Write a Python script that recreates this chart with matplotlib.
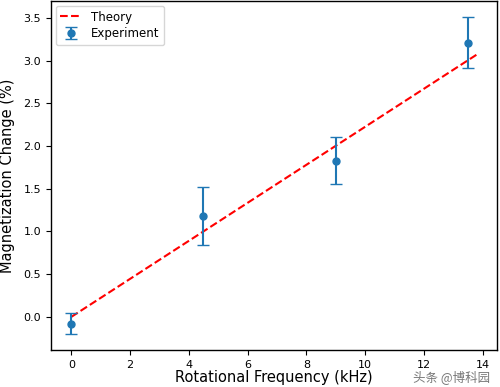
import matplotlib.pyplot as plt

freq = [0, 4.5, 9, 13.5]
change = [-0.08, 1.18, 1.83, 3.21]
err = [0.12, 0.34, 0.28, 0.30]

theory_x = [0, 13.8]
theory_y = [0.0, 3.07]

fig = plt.figure(figsize=(5, 3.87), dpi=100)
ax = fig.add_axes([0.102, 0.096, 0.892, 0.901])

ax.plot(theory_x, theory_y, 'r--', label='Theory')
ax.errorbar(freq, change, yerr=err, fmt='o', markersize=5, capsize=4, label='Experiment')

ax.set_xlabel('Rotational Frequency (kHz)', fontsize=10.5, labelpad=0.5)
ax.set_ylabel('Magnetization Change (%)', fontsize=10.5, labelpad=6)
ax.tick_params(labelsize=8)
for s in ax.spines.values():
    s.set_linewidth(1.0)
ax.legend(loc='upper left', fontsize=8.5, handlelength=1.8, labelspacing=0.3,
          borderaxespad=0.4)

# watermark
fig.text(0.98, 0.027, '头条 @博科园', fontsize=9, color='#777777', ha='right', va='center',
         family=['Noto Sans CJK SC', 'DejaVu Sans'])

plt.savefig('out.png')
